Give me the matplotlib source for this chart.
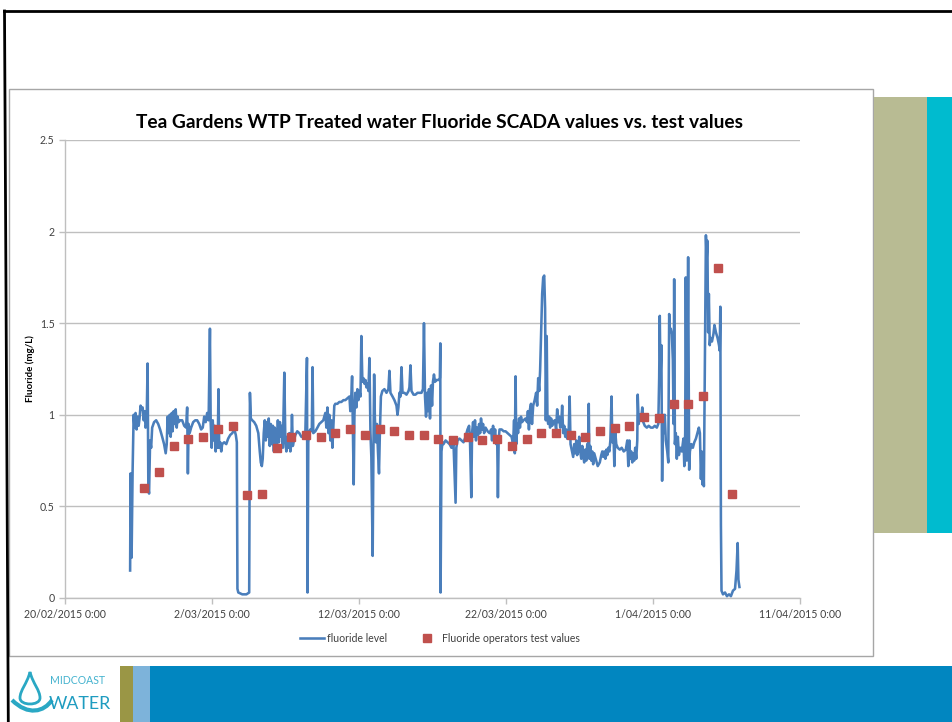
import matplotlib
matplotlib.use("Agg")
import matplotlib.pyplot as plt
import matplotlib.dates as mdates
from matplotlib.patches import Rectangle, PathPatch
from matplotlib.path import Path
from matplotlib.lines import Line2D
from matplotlib.ticker import FuncFormatter
import numpy as np
import pandas as pd

plt.rcParams['font.family'] = ['Lato', 'DejaVu Sans']

# ---------------- data ----------------
title = "Tea Gardens WTP Treated water Fluoride SCADA values vs. test values"
y_label = "Fluoride (mg/L)"
series_line_name = "fluoride level"
series_test_name = "Fluoride operators test values"

axis_start = "2015-02-20"
axis_end = "2015-04-11"

# SCADA logger: elapsed days since axis_start, fluoride reading (mg/L)
scada_days = [
    4.43, 4.46, 4.50, 4.53, 4.60, 4.67, 4.73, 4.80, 4.87, 4.94, 5.01, 5.07, 5.14, 5.21, 5.28,
    5.35, 5.42, 5.48, 5.55, 5.62, 5.67, 5.72, 5.79, 5.86, 5.93, 6.06, 6.20, 6.34, 6.47, 6.61,
    6.74, 6.85, 6.92, 6.98, 7.05, 7.12, 7.19, 7.26, 7.32, 7.39, 7.46, 7.53, 7.60, 7.66, 7.73,
    7.83, 7.97, 8.11, 8.24, 8.31, 8.36, 8.41, 8.48, 8.58, 8.72, 8.86, 8.99, 9.13, 9.26, 9.37,
    9.47, 9.57, 9.67, 9.77, 9.86, 9.91, 9.98, 10.05, 10.12, 10.18, 10.25, 10.32, 10.39, 10.44,
    10.49, 10.56, 10.63, 10.69, 10.83, 10.97, 11.10, 11.24, 11.38, 11.52, 11.62, 11.69, 11.73,
    11.79, 12.06, 12.34, 12.53, 12.58, 12.64, 12.74, 12.87, 13.01, 13.15, 13.25, 13.32, 13.39,
    13.45, 13.52, 13.59, 13.66, 13.73, 13.79, 13.86, 13.93, 14.00, 14.07, 14.14, 14.21, 14.27,
    14.34, 14.41, 14.48, 14.55, 14.62, 14.68, 14.75, 14.82, 14.92, 14.99, 15.06, 15.12, 15.19,
    15.26, 15.33, 15.39, 15.44, 15.50, 15.57, 15.67, 15.80, 15.94, 16.08, 16.21, 16.35, 16.46,
    16.50, 16.55, 16.62, 16.69, 16.79, 16.84, 16.89, 17.03, 17.17, 17.30, 17.44, 17.57, 17.71,
    17.78, 17.85, 17.92, 17.98, 18.05, 18.12, 18.19, 18.26, 18.32, 18.39, 18.53, 18.66, 18.80,
    18.94, 19.07, 19.21, 19.35, 19.41, 19.48, 19.53, 19.58, 19.64, 19.69, 19.75, 19.82, 19.89,
    19.96, 20.03, 20.10, 20.16, 20.23, 20.30, 20.37, 20.44, 20.50, 20.57, 20.64, 20.71, 20.78,
    20.84, 20.93, 20.98, 21.03, 21.08, 21.15, 21.22, 21.29, 21.36, 21.42, 21.49, 21.59, 21.73,
    21.87, 22.00, 22.07, 22.14, 22.28, 22.41, 22.55, 22.62, 22.68, 22.75, 22.82, 22.89, 22.96,
    23.09, 23.23, 23.37, 23.43, 23.50, 23.57, 23.71, 23.84, 23.98, 24.11, 24.25, 24.35, 24.42,
    24.49, 24.56, 24.63, 24.69, 24.76, 24.83, 24.90, 24.97, 25.03, 25.10, 25.17, 25.27, 25.41,
    25.50, 25.53, 25.55, 25.61, 25.68, 25.75, 25.89, 26.02, 26.16, 26.29, 26.43, 26.57, 26.62,
    26.70, 26.84, 26.98, 27.11, 27.25, 27.38, 27.49, 27.55, 27.64, 27.69, 27.76, 27.83, 27.89,
    27.96, 28.03, 28.10, 28.17, 28.24, 28.30, 28.37, 28.44, 28.51, 28.61, 28.75, 28.88, 28.99,
    29.05, 29.12, 29.19, 29.26, 29.33, 29.40, 29.45, 29.50, 29.56, 29.70, 29.84, 29.97, 30.11,
    30.25, 30.38, 30.48, 30.55, 30.60, 30.65, 30.70, 30.75, 30.82, 30.89, 30.95, 31.02, 31.09,
    31.19, 31.33, 31.43, 31.49, 31.56, 31.63, 31.70, 31.77, 31.85, 31.95, 32.05, 32.12, 32.19,
    32.26, 32.32, 32.39, 32.46, 32.53, 32.60, 32.66, 32.71, 32.77, 32.82, 32.87, 32.94, 33.00,
    33.07, 33.14, 33.21, 33.31, 33.41, 33.48, 33.55, 33.62, 33.69, 33.76, 33.82, 33.89, 33.96,
    34.03, 34.10, 34.16, 34.26, 34.33, 34.39, 34.47, 34.57, 34.64, 34.71, 34.78, 34.84, 34.91,
    34.98, 35.05, 35.12, 35.19, 35.25, 35.32, 35.39, 35.46, 35.53, 35.58, 35.63, 35.67, 35.73,
    35.80, 35.87, 35.93, 36.00, 36.10, 36.24, 36.38, 36.48, 36.55, 36.62, 36.69, 36.76, 36.83,
    36.89, 36.96, 37.03, 37.10, 37.18, 37.23, 37.30, 37.37, 37.44, 37.50, 37.60, 37.74, 37.87,
    38.01, 38.15, 38.25, 38.32, 38.39, 38.45, 38.52, 38.59, 38.66, 38.72, 38.79, 38.86, 38.93,
    38.96, 39.03, 39.10, 39.20, 39.27, 39.34, 39.44, 39.58, 39.71, 39.85, 39.99, 40.12, 40.26,
    40.36, 40.42, 40.46, 40.51, 40.57, 40.62, 40.67, 40.74, 40.80, 40.87, 40.97, 41.04, 41.10,
    41.15, 41.21, 41.28, 41.35, 41.40, 41.44, 41.49, 41.55, 41.62, 41.69, 41.76, 41.86, 41.96,
    42.07, 42.13, 42.19, 42.23, 42.30, 42.39, 42.46, 42.51, 42.61, 42.71, 42.81, 42.92, 43.02,
    43.12, 43.19, 43.26, 43.31, 43.36, 43.41, 43.46, 43.53, 43.60, 43.65, 43.70, 43.75, 43.80,
    43.86, 43.90, 44.01, 44.11, 44.18, 44.28, 44.39, 44.49, 44.54, 44.58, 44.62, 44.66, 44.76,
    44.90, 45.03, 45.17, 45.30, 45.44, 45.58, 45.68, 45.76, 45.81, 45.88,
]
scada_values = [
    0.15, 0.68, 0.45, 0.22, 0.70, 1.00, 0.93, 1.01, 0.92, 0.99, 0.94, 0.98, 1.05, 1.03, 1.04,
    0.97, 1.02, 0.93, 0.95, 1.28, 0.60, 0.57, 0.86, 0.82, 0.93, 0.96, 0.97, 0.95, 0.92, 0.88,
    0.84, 0.79, 0.84, 0.99, 0.90, 1.00, 0.88, 1.01, 0.91, 1.02, 0.95, 1.03, 0.93, 0.99, 0.96,
    0.97, 0.97, 0.94, 0.93, 1.04, 0.68, 0.95, 0.90, 0.93, 0.96, 0.97, 0.97, 0.95, 0.92, 0.93,
    0.99, 0.96, 1.01, 0.97, 1.47, 0.96, 0.82, 0.97, 0.86, 0.94, 0.80, 0.90, 0.82, 1.14,
    0.82, 0.85, 0.80, 0.84, 0.85, 0.84, 0.87, 0.89, 0.90, 0.92, 0.89, 0.85, 0.05,
    0.03, 0.02, 0.02, 0.03, 1.12, 0.98, 0.97, 0.96, 0.94, 0.90, 0.80, 0.74, 0.72,
    0.76, 0.90, 0.97, 0.86, 0.96, 0.88, 0.98, 0.83, 0.95, 0.84, 0.94, 0.80, 0.93,
    0.90, 0.82, 0.97, 0.85, 0.96, 0.88, 0.94, 0.82, 1.23, 0.85, 0.80, 0.88, 0.82,
    0.90, 0.80, 0.84, 1.00, 0.83, 0.86, 0.89, 0.91, 0.90, 0.88, 0.88, 0.90, 1.31,
    0.03, 0.85, 0.91, 0.92, 0.91, 1.26, 0.90, 0.91, 0.93, 0.95, 0.96, 0.97, 1.01,
    0.93, 1.04, 0.90, 1.00, 0.86, 0.97, 0.82, 0.94, 1.05, 1.06, 1.06, 1.07, 1.07,
    1.08, 1.08, 1.09, 1.10, 1.02, 1.11, 1.21, 0.95, 0.62, 1.00, 1.12, 1.04, 1.14,
    1.08, 1.13, 1.10, 1.43, 1.18, 1.20, 1.17, 1.19, 1.15, 1.17, 1.13, 1.31, 0.90,
    0.77, 0.23, 0.80, 1.22, 0.98, 0.85, 0.95, 0.80, 0.68, 0.90, 1.10, 1.13, 1.14,
    1.12, 1.14, 1.24, 1.12, 1.10, 1.08, 1.05, 1.00, 1.04, 1.12, 1.10, 1.26, 1.12,
    1.12, 1.11, 1.13, 1.15, 1.27, 1.13, 1.11, 1.11, 1.12, 1.12, 1.12, 1.14, 1.50,
    1.10, 0.99, 1.12, 1.02, 1.14, 0.98, 1.16, 1.05, 1.18, 1.22, 1.18, 1.19, 1.19,
    1.20, 1.39, 0.03, 0.80, 0.85, 0.84, 0.86, 0.85, 0.84, 0.82, 0.84, 0.52, 0.82,
    0.86, 0.87, 0.86, 0.85, 0.88, 0.92, 0.94, 0.86, 0.55, 0.90, 0.96, 0.88, 0.97,
    0.86, 0.93, 0.89, 0.95, 0.90, 0.98, 0.92, 0.95, 0.90, 0.93, 0.91, 0.90, 0.92,
    0.86, 0.94, 0.87, 0.92, 0.84, 0.88, 0.55, 0.86, 0.92, 0.92, 0.91, 0.91, 0.90,
    0.89, 0.88, 0.84, 0.97, 0.79, 1.21, 0.84, 0.95, 0.90, 0.98, 0.93, 0.99, 0.96,
    0.97, 0.98, 0.96, 1.02, 0.92, 1.03, 1.06, 0.95, 1.05, 1.08, 1.12, 1.05, 1.20,
    1.13, 1.24, 1.45, 1.66, 1.75, 1.76, 1.58, 0.97, 1.43, 0.98, 0.95, 0.99, 0.93,
    0.98, 0.94, 0.96, 0.97, 0.92, 1.03, 0.96, 0.99, 0.93, 0.95, 1.05, 0.90, 0.94,
    0.88, 0.92, 0.87, 0.90, 1.10, 0.84, 0.81, 0.77, 0.84, 0.79, 0.86, 0.78, 0.80,
    0.88, 0.80, 0.76, 0.83, 0.78, 0.74, 0.81, 0.75, 0.84, 0.78, 1.06, 0.76, 0.83,
    0.75, 0.80, 0.73, 0.79, 0.76, 0.72, 0.74, 0.78, 0.80, 0.77, 0.80, 0.76, 0.81,
    0.78, 0.82, 0.80, 0.86, 1.10, 0.85, 0.93, 0.72, 0.90, 0.84, 0.82, 0.81, 0.82,
    0.80, 0.81, 0.86, 0.72, 0.86, 0.76, 0.80, 0.74, 0.79, 0.75, 0.82, 0.76, 0.86,
    1.11, 0.95, 1.00, 0.98, 1.04, 0.96, 0.94, 0.93, 0.94, 0.93, 0.93, 0.94, 0.93,
    0.95, 1.20, 1.54, 1.20, 1.38, 0.64, 1.00, 0.90, 1.00, 0.86, 0.80, 0.74, 1.55,
    1.46, 1.47, 1.44, 1.30, 0.95, 1.74, 0.84, 0.90, 0.76, 0.88, 0.78, 0.82, 0.80,
    0.87, 0.72, 0.90, 1.75, 0.75, 1.86, 0.70, 0.80, 0.84, 0.82, 0.85, 0.87, 0.90,
    0.93, 0.90, 0.65, 0.80, 0.62, 0.75, 0.61, 1.30, 1.98, 1.85, 1.95, 1.45, 1.66,
    1.38, 1.42, 1.40, 1.44, 1.49, 1.45, 1.42, 1.38, 1.35, 1.59, 0.40, 0.04, 0.02,
    0.03, 0.01, 0.02, 0.01, 0.04, 0.05, 0.15, 0.30, 0.10, 0.06,
]

# operator bench tests, one per day from 25/02/2015
test_first = "2015-02-25 09:30"
test_values = [
    0.60, 0.69, 0.83, 0.87, 0.88, 0.92, 0.94, 0.56, 0.57, 0.82, 0.88, 0.89, 0.88, 0.90,
    0.92, 0.89, 0.92, 0.91, 0.89, 0.89, 0.87, 0.86, 0.88, 0.86, 0.87, 0.83, 0.87, 0.90,
    0.90, 0.89, 0.88, 0.91, 0.93, 0.94, 0.99, 0.98, 1.06, 1.06, 1.10, 1.80, 0.57,
]

y_ticks = [0, 0.5, 1, 1.5, 2, 2.5]

# ---------------- figure ----------------
W, H = 952, 722
fig = plt.figure(figsize=(W / 100, H / 100), dpi=100, facecolor="white")


def box(x, y, w, h):
    """pixel box (top-left origin) -> figure fraction rect"""
    return (x / W, 1 - (y + h) / H, w / W, h / H)


def add_rect(x, y, w, h, **kw):
    l, b, ww, hh = box(x, y, w, h)
    fig.add_artist(Rectangle((l, b), ww, hh, transform=fig.transFigure, **kw))


def fx(x):
    return x / W


def fy(y):
    return 1 - y / H


# slide frame
fig.add_artist(Line2D([fx(4), 1.0], [fy(11), fy(11)], color="black", lw=2.0,
                      transform=fig.transFigure))
fig.add_artist(Line2D([fx(4.5), fx(8.3)], [fy(11), 0.0], color="black", lw=2.0,
                      transform=fig.transFigure))

# chart area frame
add_rect(9, 89, 864, 567, facecolor="white", edgecolor="#A6A6A6", lw=1.0, zorder=1)

# decorative side bars
add_rect(874, 97, 53, 436, facecolor="#B8BB93", edgecolor="none", zorder=1)
add_rect(927, 97, 25, 436, facecolor="#00BBCF", edgecolor="none", zorder=1)

# footer band
add_rect(120, 666, 13, 56, facecolor="#9A9645", edgecolor="none", zorder=1)
add_rect(133, 666, 17, 56, facecolor="#7DB3DA", edgecolor="none", zorder=1)
add_rect(150, 666, 802, 56, facecolor="#0186C0", edgecolor="none", zorder=1)

# logo: water drop + wordmark
logo_col = "#2AA8C4"
drop = Path(
    [(fx(30), fy(672)), (fx(27), fy(684)), (fx(20), fy(690)), (fx(20), fy(698)),
     (fx(20), fy(706)), (fx(40), fy(706)), (fx(40), fy(698)),
     (fx(40), fy(690)), (fx(33), fy(684)), (fx(30), fy(672)), (fx(30), fy(672))],
    [Path.MOVETO, Path.CURVE4, Path.CURVE4, Path.CURVE4, Path.CURVE4, Path.CURVE4,
     Path.CURVE4, Path.CURVE4, Path.CURVE4, Path.CURVE4, Path.CLOSEPOLY])
fig.add_artist(PathPatch(drop, facecolor="none", edgecolor=logo_col, lw=2.0,
                         transform=fig.transFigure))
wave = Path([(fx(12), fy(700)), (fx(28), fy(716)), (fx(44), fy(712)), (fx(52), fy(700))],
            [Path.MOVETO, Path.CURVE4, Path.CURVE4, Path.CURVE4])
fig.add_artist(PathPatch(wave, facecolor="none", edgecolor=logo_col, lw=3.0,
                         transform=fig.transFigure))
fig.text(fx(50), fy(681), "MIDCOAST", color="#45B3CF", fontsize=7.6, va="center",
         ha="left")
fig.text(fx(49), fy(704), "WATER", color="#1E9CC0", fontsize=12.8, va="center",
         ha="left")

# ---------------- chart ----------------
ax = fig.add_axes(box(65, 140, 735, 458))
ax.set_facecolor("white")
ax.set_zorder(3)

t0 = pd.Timestamp(axis_start)
scada_t = t0 + pd.to_timedelta(np.array(scada_days), unit="D")
test_t = pd.date_range(test_first, periods=len(test_values), freq="D")

ax.plot(scada_t, scada_values, color="#4A7EBB", lw=1.85, solid_joinstyle="round",
        label=series_line_name, zorder=3)
ax.plot(test_t, test_values, ls="none", marker="s", ms=6.3, color="#C0504D",
        mec="#C0504D", label=series_test_name, zorder=4)

ax.set_xlim(t0, pd.Timestamp(axis_end))
ax.set_ylim(0, 2.5)
ax.set_yticks(y_ticks)
ax.yaxis.set_major_formatter(FuncFormatter(lambda v, p: f"{v:g}"))
tick_days = pd.date_range(axis_start, axis_end, freq="10D")
ax.set_xticks(tick_days)
ax.xaxis.set_major_formatter(FuncFormatter(
    lambda v, p: (lambda d: f"{d.day}/{d:%m/%Y} {d.hour}:{d:%M}")(mdates.num2date(v))))

ax.grid(axis="y", color="#BFBFBF", lw=1.0)
ax.set_axisbelow(True)
for s in ("top", "right"):
    ax.spines[s].set_visible(False)
for s in ("left", "bottom"):
    ax.spines[s].set_color("#BFBFBF")
    ax.spines[s].set_linewidth(1.0)
ax.tick_params(axis="both", colors="#BFBFBF", labelcolor="#404040", labelsize=7.6,
               length=4, width=1.0)
ax.tick_params(axis="x", pad=4)

fig.text(fx(439), fy(122), title, fontsize=13.8, fontweight="bold", color="black",
         ha="center", va="center")
ax.set_ylabel(y_label, fontsize=7, fontweight="bold", color="black", va="center")
ax.yaxis.set_label_coords((30 - 65) / 735, 0.5)

ax.legend(loc="center", bbox_to_anchor=(fx(440), fy(638)),
          bbox_transform=fig.transFigure, ncol=2, frameon=False, fontsize=7.6,
          handlelength=2.3, columnspacing=2.6, handletextpad=0.3,
          labelcolor="#404040")

fig.savefig("out.png", dpi=100, facecolor="white")
